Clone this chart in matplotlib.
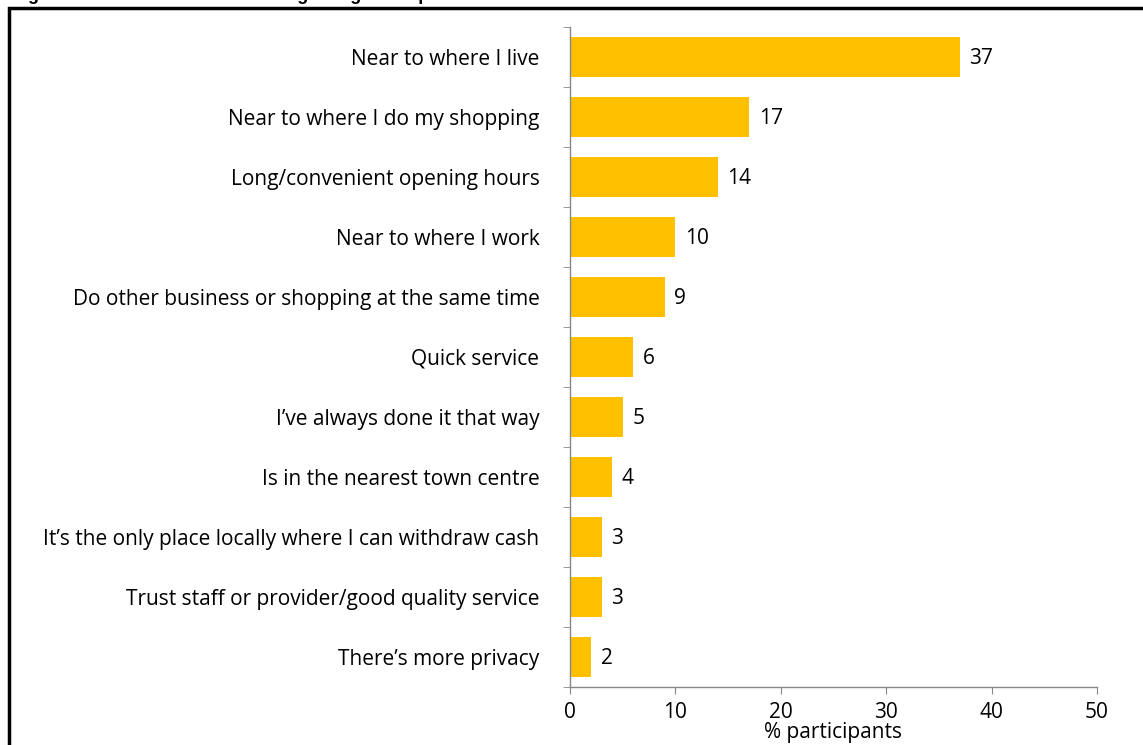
import matplotlib.pyplot as plt
from matplotlib.patches import Rectangle

# data, top to bottom as in the chart
reasons = [
    "Near to where I live",
    "Near to where I do my shopping",
    "Long/convenient opening hours",
    "Near to where I work",
    "Do other business or shopping at the same time",
    "Quick service",
    "I\u2019ve always done it that way",
    "Is in the nearest town centre",
    "It\u2019s the only place locally where I can withdraw cash",
    "Trust staff or provider/good quality service",
    "There\u2019s more privacy",
]
pct = [37, 17, 14, 10, 9, 6, 5, 4, 3, 3, 2]
x_ticks = [0, 10, 20, 30, 40, 50]

plt.rcParams['font.family'] = ['Open Sans', 'DejaVu Sans']
fs = 15

fig = plt.figure(figsize=(11.43, 7.45), dpi=100)
ax = fig.add_axes([570 / 1143, 1 - 687 / 745, 527 / 1143, 660 / 745])

ypos = list(range(len(reasons)))
ax.barh(ypos, pct, height=0.66, color='#FFC000', zorder=2)
for y, v in zip(ypos, pct):
    ax.text(v + 0.9, y + 0.03, str(v), va='center', ha='left', fontsize=fs, color='black')

ax.set_ylim(len(reasons) - 0.5, -0.5)
ax.set_xlim(0, 50)
ax.set_xticks(x_ticks)
ax.set_yticks(ypos)
ax.set_yticklabels(reasons, fontsize=fs)
ax.set_yticks([i - 0.5 for i in range(len(reasons) + 1)], minor=True)
ax.tick_params(axis='y', which='major', length=0, pad=22)
ax.tick_params(axis='y', which='minor', length=5, color='#868686', direction='out')
ax.tick_params(axis='x', length=5, color='#868686', direction='out', labelsize=fs, pad=6)
ax.set_xlabel('% participants', fontsize=fs, labelpad=-1)

for s in ['top', 'right']:
    ax.spines[s].set_visible(False)
for s in ['left', 'bottom']:
    ax.spines[s].set_color('#868686')
    ax.spines[s].set_linewidth(1)

# outer frame, partly cut by the image edge
fig.patches.append(Rectangle((9 / 1143, -0.05), 1.1, 1 - 8 / 745 + 0.05,
                             transform=fig.transFigure, fill=False,
                             edgecolor='black', linewidth=2.5, clip_on=False))

# title mostly cut off at the top edge
fig.text(12 / 1143, 1 - 0.3 / 745,
         "Figure 4.3  Reasons for continuing using these places to withdraw cash",
         fontsize=13, fontweight='bold', family='Liberation Sans',
         va='baseline', ha='left')

fig.savefig('out.png', dpi=100)
